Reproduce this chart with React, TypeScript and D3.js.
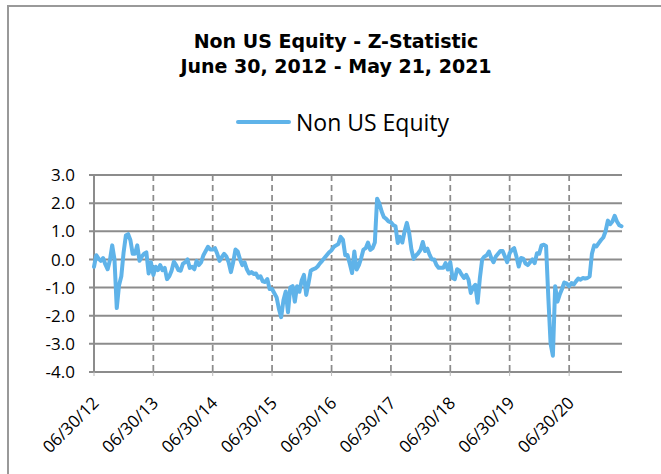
import React from 'react';
import * as d3 from 'd3';

// bi-weekly z-statistic readings, one array per year starting 06/30
const yr2012 = [-0.26, 0.15, 0.03, -0.05, 0.05, -0.18, -0.35, -0.02, 0.5, 0.0, -1.73, -0.92, -0.6, 0.25, 0.85, 0.9, 0.68, 0.2, 0.2, 0.5, -0.05, 0.1, 0.2, 0.25, -0.5, -0.1];
const yr2013 = [-0.55, -0.26, -0.38, -0.2, -0.38, -0.3, -0.7, -0.6, -0.4, -0.08, -0.2, -0.38, -0.4, -0.15, -0.1, 0, -0.3, -0.26, -0.35, -0.05, -0.2, -0.1, 0.15, 0.3, 0.45, 0.35];
const yr2014 = [0.35, 0.4, 0.2, -0.05, 0.08, 0.2, 0.1, -0.1, -0.45, -0.1, 0.35, 0.28, 0, -0.2, -0.1, -0.35, -0.5, -0.45, -0.52, -0.5, -0.65, -0.6, -0.78, -0.8, -0.7, -1.05];
const yr2015 = [-1.05, -1.2, -1.35, -1.75, -2.05, -1.45, -1.14, -1.88, -1.0, -0.95, -1.5, -0.95, -1.15, -0.75, -0.55, -1.26, -0.85, -0.4, -0.35, -0.32, -0.25, -0.14, -0.05, 0.05, 0.15, 0.25];
const yr2016 = [0.33, 0.45, 0.5, 0.55, 0.8, 0.7, 0.15, 0.16, -0.15, -0.48, 0.28, -0.36, -0.2, 0.05, 0.35, 0.4, 0.6, 0.34, 0.4, 0.6, 2.16, 1.99, 1.7, 1.5, 1.44, 1.35];
const yr2017 = [1.32, 1.22, 1.18, 0.58, 0.8, 0.6, 1.0, 1.3, 0.95, 0.35, 0.02, 0.14, 0.22, 0.34, 0.62, 0.3, 0.38, 0.16, 0, 0, -0.2, -0.3, -0.3, -0.3, -0.13, -0.36];
const yr2018 = [-0.1, -0.66, -0.7, -0.35, -0.4, -0.54, -0.66, -0.55, -0.72, -1.19, -1.0, -0.9, -1.54, -0.66, 0, 0.1, 0.15, 0.28, 0.05, -0.1, 0.1, 0.2, 0.3, 0.3, 0.1, -0.1];
const yr2019 = [0.22, 0.34, 0.4, 0.1, -0.25, 0.05, 0.03, -0.15, -0.2, -0.1, 0, -0.13, 0.22, 0.2, 0.5, 0.52, 0.48, -1.36, -3.0, -3.42, -0.95, -1.5, -1.25, -1.05, -0.82, -0.85];
const yr2020 = [-0.95, -0.84, -0.89, -0.78, -0.68, -0.72, -0.66, -0.68, -0.66, -0.6, 0.2, 0.5, 0.46, 0.58, 0.69, 0.78, 1.0, 1.38, 1.25, 1.35, 1.55, 1.35, 1.22, 1.18];

const yearStarts = [2012, 2013, 2014, 2015, 2016, 2017, 2018, 2019, 2020];
const yearValues = [yr2012, yr2013, yr2014, yr2015, yr2016, yr2017, yr2018, yr2019, yr2020];

const xTickLabels = ['06/30/12', '06/30/13', '06/30/14', '06/30/15', '06/30/16', '06/30/17', '06/30/18', '06/30/19', '06/30/20'];
const yTicks = [3, 2, 1, 0, -1, -2, -3, -4];

const title1 = 'Non US Equity - Z-Statistic';
const title2 = 'June 30, 2012 - May 21, 2021';
const seriesName = 'Non US Equity';

const W = 661, H = 474;
const margin = { top: 175, bottom: 102, left: 94, right: 39 };
const blue = '#5fb3e9';
const grid = '#8c8c8c';

export default function App() {
  const parse = d3.timeParse('%m/%d/%y');
  const tickDates = xTickLabels.map(s => parse(s) as Date);

  const points = yearValues.flatMap((vals, k) =>
    vals.map((v, i) => ({ date: d3.timeDay.offset(new Date(yearStarts[k], 5, 30), 14 * i), value: v }))
  );

  const x = d3.scaleTime()
    .domain([new Date(2012, 5, 30), new Date(2021, 4, 21)])
    .range([margin.left, W - margin.right]);
  const y = d3.scaleLinear()
    .domain([-4, 3])
    .range([H - margin.bottom, margin.top]);

  const line = d3.line<{ date: Date; value: number }>()
    .x(d => x(d.date))
    .y(d => y(d.value));

  const x0 = x.range()[0], x1 = x.range()[1];
  const yTop = y(3), yBot = y(-4);

  return (
    <svg width={W} height={H} style={{ position: 'absolute', left: 0, top: 0, background: '#fff' }}>
      {/* outer chart border */}
      <rect x={8} y={6} width={W + 20} height={H + 20} fill="#fff" stroke="#999" strokeWidth={2} />

      <text x={336} y={48} textAnchor="middle" fontFamily="DejaVu Sans" fontWeight="bold" fontSize={19}>{title1}</text>
      <text x={336} y={73} textAnchor="middle" fontFamily="DejaVu Sans" fontWeight="bold" fontSize={19}>{title2}</text>

      {/* legend */}
      <line x1={238} x2={289} y1={122} y2={122} stroke={blue} strokeWidth={4} strokeLinecap="round" />
      <text x={296} y={131} fontFamily="Open Sans" fontSize={23}>{seriesName}</text>

      {/* horizontal gridlines + y ticks */}
      {yTicks.map(t => (
        <g key={t}>
          <line x1={x0 - 5} x2={x1} y1={y(t)} y2={y(t)} stroke={grid} strokeWidth={2} />
          <text x={75} y={y(t)} dy="0.36em" textAnchor="end" fontFamily="Open Sans" fontSize={17}>{t.toFixed(1)}</text>
        </g>
      ))}

      {/* vertical dashed gridlines */}
      {tickDates.slice(1).map((d, i) => (
        <line key={i} x1={x(d)} x2={x(d)} y1={yTop} y2={yBot} stroke={grid} strokeWidth={1.75} strokeDasharray="6,4" />
      ))}

      {/* axes */}
      <line x1={x0} x2={x0} y1={yTop} y2={yBot} stroke={grid} strokeWidth={2} />
      {tickDates.map((d, i) => (
        <g key={i}>
          <line x1={x(d)} x2={x(d)} y1={yBot} y2={yBot + 4} stroke="#bbb" strokeWidth={1} />
          <text transform={`translate(${x(d) + 6},404) rotate(-45)`} textAnchor="end" fontFamily="Open Sans" fontSize={17}>{xTickLabels[i]}</text>
        </g>
      ))}

      <path d={line(points) || ''} fill="none" stroke={blue} strokeWidth={4} strokeLinejoin="round" strokeLinecap="round" />
    </svg>
  );
}
